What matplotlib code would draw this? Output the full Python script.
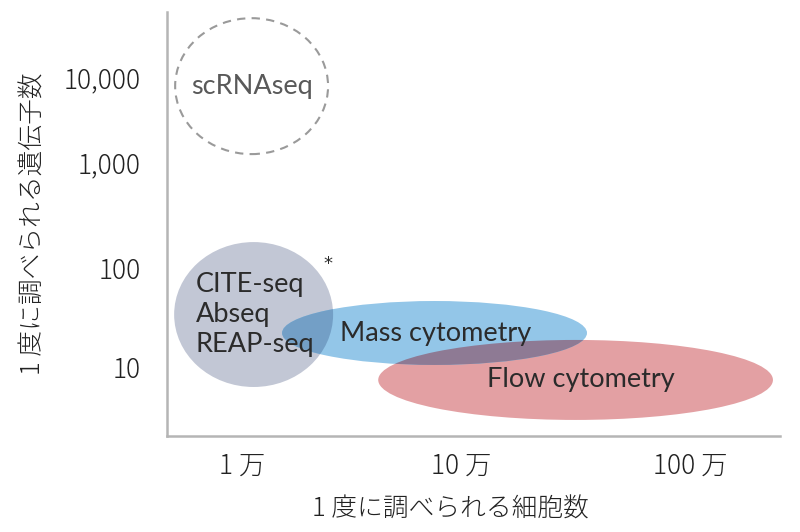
from matplotlib import pyplot as plt
from matplotlib.patches import Ellipse

# all positions in decades (log10 of cells / genes)
x_ticks = [4, 4.98, 6]
x_labels = ['1 万', '10 万', '100 万']
y_ticks = [1, 2.02, 3.12, 4]
y_labels = ['10', '100', '1,000', '10,000']

# name: (center x, center y, width, height)
sc_rna = (4.042, 3.907, 0.683, 1.407)
cite = (4.051, 1.543, 0.710, 1.50)
mass = (4.859, 1.352, 1.362, 0.662)
flow = (5.489, 0.866, 1.763, 0.828)

gray = '#c2c7d5'
blue = '#93c6e8'
red = '#e3a0a3'
gray_blue = '#739fc6'
blue_red = '#8e7a94'
text_col = '#2b2b2b'

jp = ['Noto Sans CJK JP', 'DejaVu Sans']
lat = ['Lato', 'DejaVu Sans']


def ell(e, **kw):
    return Ellipse((e[0], e[1]), e[2], e[3], **kw)


fig = plt.figure(figsize=(8, 5.32), dpi=100)
ax = fig.add_axes([0.209, 0.1805, 0.766, 0.7965])
ax.set_xlim(3.665, 6.402)
ax.set_ylim(0.286, 4.672)

ax.add_patch(ell(sc_rna, fill=False, ec='#9a9a9a', lw=1.5, ls=(0, (4, 3))))

g = ell(cite, fc=gray, ec='none')
b = ell(mass, fc=blue, ec='none')
r = ell(flow, fc=red, ec='none')
ax.add_patch(g)
ax.add_patch(r)
ax.add_patch(b)

# overlaps drawn darker, like a multiply blend
gb = ell(mass, fc=gray_blue, ec='none')
ax.add_patch(gb)
gb.set_clip_path(g)
br = ell(mass, fc=blue_red, ec='none')
ax.add_patch(br)
br.set_clip_path(r)

ax.text(sc_rna[0], sc_rna[1], 'scRNAseq', ha='center', va='center',
        fontsize=19.5, color='#595959', family=lat)
ax.text(3.793, 1.548, 'CITE-seq\nAbseq\nREAP-seq', ha='left', va='center',
        fontsize=19.5, color=text_col, family=lat, linespacing=1.25)
ax.text(4.385, 2.07, '*', ha='center', va='center', fontsize=13, color=text_col)
ax.text(4.435, 1.35, 'Mass cytometry', ha='left', va='center',
        fontsize=19.5, color=text_col, family=lat)
ax.text(5.094, 0.866, 'Flow cytometry', ha='left', va='center',
        fontsize=19.5, color=text_col, family=lat)

for s in ['top', 'right']:
    ax.spines[s].set_visible(False)
for s in ['left', 'bottom']:
    ax.spines[s].set_color('#b5b5b5')
    ax.spines[s].set_linewidth(1.8)

ax.set_xticks(x_ticks)
ax.set_xticklabels(x_labels, family=jp, fontsize=19, fontweight='light')
ax.set_yticks(y_ticks)
ax.set_yticklabels(y_labels, family=jp, fontsize=19, fontweight='light')
ax.tick_params(length=0, pad=19, colors='#222222')
ax.tick_params(axis='x', pad=11)

ax.set_xlabel('1 度に調べられる細胞数', family=jp, fontsize=18.5,
              fontweight='light', color='#222222')
ax.xaxis.set_label_coords(0.462, -0.141)
ax.set_ylabel('1 度に調べられる遺伝子数', family=jp, fontsize=18.5,
              fontweight='light', color='#222222', labelpad=12)

fig.savefig('out.png', dpi=100)
